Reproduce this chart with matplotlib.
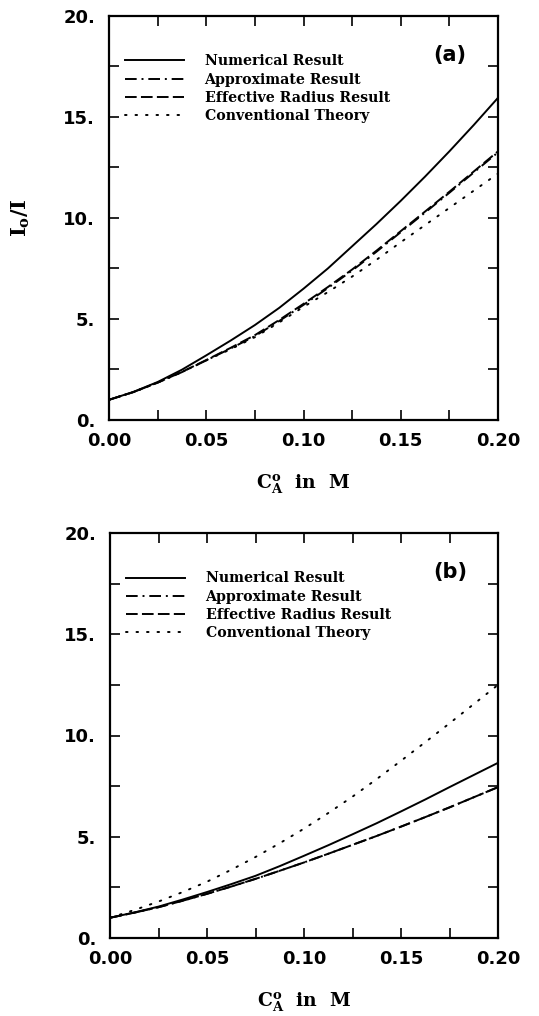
import matplotlib
matplotlib.use("Agg")
import matplotlib.pyplot as plt
from matplotlib.ticker import MultipleLocator

# ---------------- data ----------------
conc = [0.0, 0.0125, 0.025, 0.0375, 0.05, 0.0625, 0.075, 0.0875, 0.10,
        0.1125, 0.125, 0.1375, 0.15, 0.1625, 0.175, 0.1875, 0.20]

a_numerical = [1.0, 1.39, 1.88, 2.49, 3.2, 3.93, 4.7, 5.55, 6.5,
               7.5, 8.6, 9.7, 10.85, 12.05, 13.3, 14.6, 15.95]
a_approx    = [1.0, 1.38, 1.85, 2.37, 2.95, 3.54, 4.15, 4.9, 5.7,
               6.53, 7.4, 8.33, 9.3, 10.27, 11.25, 12.25, 13.25]
a_effective = [1.0, 1.38, 1.85, 2.38, 2.97, 3.57, 4.2, 4.95, 5.75,
               6.58, 7.45, 8.38, 9.35, 10.32, 11.3, 12.3, 13.3]
a_conv      = [1.0, 1.38, 1.85, 2.38, 2.95, 3.5, 4.1, 4.83, 5.6,
               6.33, 7.1, 7.93, 8.8, 9.65, 10.5, 11.35, 12.2]

b_numerical = [1.0, 1.26, 1.55, 1.9, 2.27, 2.66, 3.07, 3.55, 4.06,
               4.58, 5.12, 5.67, 6.25, 6.84, 7.45, 8.05, 8.65]
b_approx    = [1.0, 1.25, 1.52, 1.84, 2.18, 2.54, 2.92, 3.32, 3.73,
               4.16, 4.6, 5.04, 5.5, 5.97, 6.45, 6.95, 7.45]
b_effective = [1.0, 1.25, 1.52, 1.84, 2.18, 2.54, 2.92, 3.32, 3.73,
               4.16, 4.6, 5.04, 5.5, 5.97, 6.45, 6.95, 7.45]
b_conv      = [1.0, 1.38, 1.8, 2.27, 2.78, 3.37, 4.0, 4.68, 5.4,
               6.17, 6.98, 7.85, 8.75, 9.67, 10.6, 11.55, 12.5]

series_labels = ["Numerical Result", "Approximate Result",
                 "Effective Radius Result", "Conventional Theory"]
xticks = [0.00, 0.05, 0.10, 0.15, 0.20]
xtick_labels = ["0.00", "0.05", "0.10", "0.15", "0.20"]
yticks = [0, 5, 10, 15, 20]
ytick_labels = ["0.", "5.", "10.", "15.", "20."]
panel_tags = ["(a)", "(b)"]

# ---------------- style ----------------
plt.rcParams['mathtext.fontset'] = 'custom'
plt.rcParams['mathtext.rm'] = 'DejaVu Serif:bold'
plt.rcParams['mathtext.it'] = 'DejaVu Serif:bold'
plt.rcParams['mathtext.bf'] = 'DejaVu Serif:bold'

fig = plt.figure(figsize=(5.39, 10.16), dpi=100)
ax_a = fig.add_axes([109/539, 1-420/1016, 389/539, 404/1016])
ax_b = fig.add_axes([110/539, 1-938/1016, 388/539, 405/1016])

lw = 1.4
styles = [
    dict(color='black', lw=lw, linestyle='-'),
    dict(color='black', lw=lw, linestyle=(0, (6, 2.5, 1, 2.5))),
    dict(color='black', lw=lw, linestyle=(0, (6, 2.2))),
    dict(color='black', lw=lw, linestyle=(0, (0.8, 4.6)), dash_capstyle='round'),
]

tick_font = dict(family='DejaVu Sans', weight='bold', size=13)
serif_font = dict(family='DejaVu Serif', weight='bold')

def setup(ax, data, tag):
    order = [3, 1, 2, 0]
    for i in order:
        ax.plot(conc, data[i], label=series_labels[i], **styles[i])
    hs, ls = ax.get_legend_handles_labels()
    mp = dict(zip(ls, hs))
    ax.legend([mp[l] for l in series_labels], series_labels,
              loc='upper left', bbox_to_anchor=(0.04, 0.905),
              frameon=False, handlelength=4.2, handletextpad=1.45,
              labelspacing=0.3, borderpad=0, borderaxespad=0,
              prop=dict(family='DejaVu Serif', weight='bold', size=10.2))
    ax.set_xlim(0, 0.2)
    ax.set_ylim(0, 20)
    ax.set_xticks(xticks)
    ax.set_xticklabels(xtick_labels, fontdict=tick_font)
    ax.set_yticks(yticks)
    ax.set_yticklabels(ytick_labels, fontdict=tick_font)
    ax.xaxis.set_minor_locator(MultipleLocator(0.025))
    ax.yaxis.set_minor_locator(MultipleLocator(2.5))
    ax.tick_params(which='both', direction='in', top=True, right=True,
                   length=7, width=1.2)
    ax.tick_params(axis='x', which='major', pad=9)
    ax.tick_params(axis='y', which='major', pad=10)
    for s in ax.spines.values():
        s.set_linewidth(1.6)
    ax.text(0.877, 0.903, tag, transform=ax.transAxes, ha='center',
            va='center', fontsize=15, family='DejaVu Sans', weight='bold')
    ax.set_xlabel(r'$\mathrm{C_A^o}$  in  M', fontsize=13.5, **serif_font)
    ax.xaxis.set_label_coords(0.5, -0.13)

setup(ax_a, [a_numerical, a_approx, a_effective, a_conv], panel_tags[0])
setup(ax_b, [b_numerical, b_approx, b_effective, b_conv], panel_tags[1])

ax_a.set_ylabel(r'$\mathrm{I_o/I}$', fontsize=15)
ax_a.yaxis.set_label_coords(-0.198, 0.5)

fig.savefig("out.png", dpi=100)
